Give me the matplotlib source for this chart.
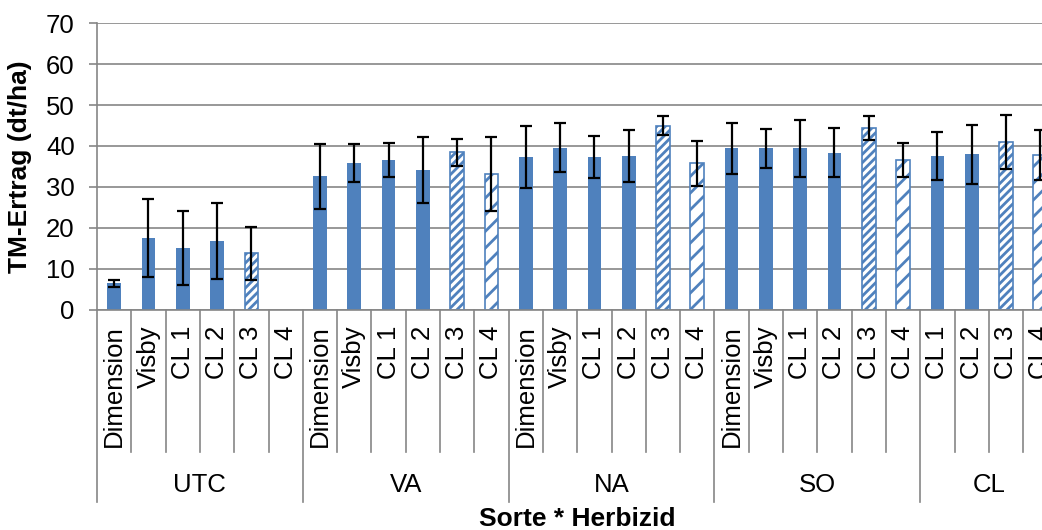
import numpy as np
import matplotlib.pyplot as plt
import matplotlib.transforms as mtransforms

# Herbizid groups and how many Sorten each one has
groups = ["UTC", "VA", "NA", "SO", "CL"]
group_sizes = [6, 6, 6, 6, 4]

sorten = ["Dimension", "Visby", "CL 1", "CL 2", "CL 3", "CL 4",
          "Dimension", "Visby", "CL 1", "CL 2", "CL 3", "CL 4",
          "Dimension", "Visby", "CL 1", "CL 2", "CL 3", "CL 4",
          "Dimension", "Visby", "CL 1", "CL 2", "CL 3", "CL 4",
          "CL 1", "CL 2", "CL 3", "CL 4"]

# TM-Ertrag (dt/ha), mean and error
ertrag = [6.5, 17.6, 15.1, 16.9, 13.8, np.nan,
          32.6, 35.9, 36.6, 34.1, 38.5, 33.2,
          37.4, 39.6, 37.3, 37.6, 45.0, 35.8,
          39.4, 39.4, 39.4, 38.4, 44.4, 36.6,
          37.6, 38.0, 41.0, 37.8]
fehler = [0.8, 9.5, 9.0, 9.3, 6.4, np.nan,
          8.0, 4.7, 4.2, 8.1, 3.3, 9.1,
          7.6, 6.0, 5.2, 6.3, 2.3, 5.5,
          6.3, 4.7, 7.0, 6.0, 3.0, 4.1,
          5.8, 7.2, 6.6, 6.1]

blue = "#4F81BD"
gray = "#868686"

plt.rcParams["font.family"] = ["Liberation Sans", "DejaVu Sans"]
plt.rcParams["hatch.linewidth"] = 2.0

fig = plt.figure(figsize=(10.42, 5.30), dpi=100)
ax = fig.add_axes([0.0931, 0.4151, 0.9217, 0.5415])

x = np.arange(len(sorten))
for xi, label, val, err in zip(x, sorten, ertrag, fehler):
    if np.isnan(val):
        continue
    if label == "CL 3":
        ax.bar(xi, val, 0.4, facecolor="white", edgecolor=blue, hatch="////",
               linewidth=1.2, zorder=2)
    elif label == "CL 4":
        ax.bar(xi, val, 0.4, facecolor="white", edgecolor=blue, hatch="//",
               linewidth=1.2, zorder=2)
    else:
        ax.bar(xi, val, 0.4, color=blue, zorder=2)
    ax.errorbar(xi, val, yerr=err, color="black", elinewidth=1.6,
                capsize=4.5, capthick=1.6, zorder=3)

ax.set_xlim(-0.5, len(sorten) - 0.5)
ax.set_ylim(0, 70)
ax.set_yticks(np.arange(0, 71, 10))
ax.yaxis.grid(True, color=gray, linewidth=1.2, zorder=0)
ax.set_axisbelow(True)
for s in ["top", "right"]:
    ax.spines[s].set_visible(False)
ax.spines["left"].set_color(gray)
ax.spines["bottom"].set_color(gray)
ax.spines["left"].set_linewidth(1.2)
ax.spines["bottom"].set_linewidth(1.2)
ax.tick_params(axis="y", colors=gray, labelcolor="black", labelsize=18.5,
               length=6, width=1.2, pad=10)
ax.set_xticks(x, sorten, rotation=90)
ax.tick_params(axis="x", length=0, labelsize=18.5, pad=11)

# category separators and group labels under the axis
trans = mtransforms.blended_transform_factory(ax.transData, ax.transAxes)
bounds = np.arange(len(sorten) + 1) - 0.5
group_edges = np.concatenate([[0], np.cumsum(group_sizes)]) - 0.5
for b in bounds:
    depth = -0.67 if b in group_edges else -0.495
    ax.plot([b, b], [0, depth], transform=trans, color=gray, linewidth=1.2,
            clip_on=False)
starts = group_edges[:-1]
for g, s, n in zip(groups, starts, group_sizes):
    ax.text(s + n / 2, -0.61, g, transform=trans, ha="center", va="center",
            fontsize=18.5)

ax.set_ylabel("TM-Ertrag (dt/ha)", fontsize=19, fontweight="bold", labelpad=10)
fig.text(0.5537, 0.043, "Sorte * Herbizid", ha="center", va="top",
         fontsize=19, fontweight="bold")

fig.savefig("out.png", dpi=100)
